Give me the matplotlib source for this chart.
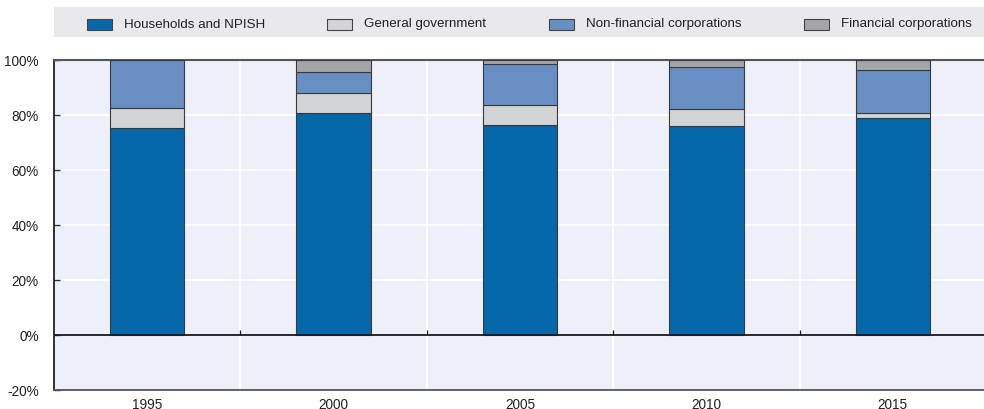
import matplotlib
matplotlib.use("Agg")
import matplotlib.pyplot as plt
from matplotlib.patches import Rectangle
import numpy as np

# Share of each sector, in percent
years = ["1995", "2000", "2005", "2010", "2015"]
households = [75.0, 80.8, 76.4, 75.9, 78.9]
general_gov = [7.5, 7.2, 7.3, 6.2, 1.8]
non_financial = [17.5, 7.5, 14.7, 15.2, 15.7]
financial = [0.0, 4.5, 1.6, 2.7, 3.6]

series_names = ["Households and NPISH", "General government",
                "Non-financial corporations", "Financial corporations"]
series_values = [households, general_gov, non_financial, financial]
colors = ["#0367aa", "#d3d4d6", "#678fc3", "#a4a5a9"]

yticks = [-20, 0, 20, 40, 60, 80, 100]

plt.rcParams["font.family"] = ["Liberation Sans", "DejaVu Sans"]

W, H = 984, 410
fig = plt.figure(figsize=(W / 100, H / 100), dpi=100)
ax = fig.add_axes([54 / W, 1 - 390.7 / H, 932 / W, 330 / H])
ax.set_facecolor("#edf0f8")

x = np.arange(len(years))
bottom = np.zeros(len(years))
for vals, col in zip(series_values, colors):
    vals = np.array(vals)
    ax.bar(x, vals, width=0.4, bottom=bottom, color=col,
           edgecolor="#3a3a3a", linewidth=0.8, zorder=3)
    bottom += vals

ax.set_xlim(-0.5, len(years) - 0.5)
ax.set_ylim(-20, 100)

# Grid: white lines, horizontal at y ticks and vertical between categories
for yv in [20, 40, 60, 80]:
    ax.axhline(yv, color="white", linewidth=1.2, zorder=1)
boundaries = np.arange(len(years) - 1) + 0.5
for bx in boundaries:
    ax.axvline(bx, color="white", linewidth=1.2, zorder=1)
ax.axhline(0, color="#1a1a1a", linewidth=1.3, zorder=4)
ax.vlines(boundaries, 0, 1.8, color="#1a1a1a", linewidth=0.9, zorder=4)

ax.set_xticks(x)
ax.set_xticklabels(years, fontsize=9.8, color="#222222")
ax.tick_params(axis="x", length=0, pad=5)
ax.set_yticks(yticks)
ax.set_yticklabels([f"{v}%" for v in yticks], fontsize=9.8, color="#222222")
ax.tick_params(axis="y", direction="in", length=4, width=1.0, color="#333333", pad=11)

ax.spines["right"].set_visible(False)
ax.spines["top"].set_color("#555555")
ax.spines["top"].set_linewidth(1.5)
ax.spines["left"].set_color("#222222")
ax.spines["left"].set_linewidth(1.3)
ax.spines["bottom"].set_color("#555555")
ax.spines["bottom"].set_linewidth(1.3)

# Legend band across the top
fig.add_artist(Rectangle((54 / W, 1 - 37.5 / H), 930 / W, 29.5 / H,
                         transform=fig.transFigure, facecolor="#e9e9eb",
                         edgecolor="none"))
patch_x = [87, 327, 549, 804]
for px, name, col in zip(patch_x, series_names, colors):
    fig.add_artist(Rectangle((px / W, 1 - 30.5 / H), 25 / W, 11 / H,
                             transform=fig.transFigure, facecolor=col,
                             edgecolor="#444444", linewidth=0.8))
    fig.text((px + 37) / W, 1 - 24.5 / H, name, fontsize=9.6,
             color="#222222", va="center", ha="left")

fig.savefig("out.png", dpi=100)
